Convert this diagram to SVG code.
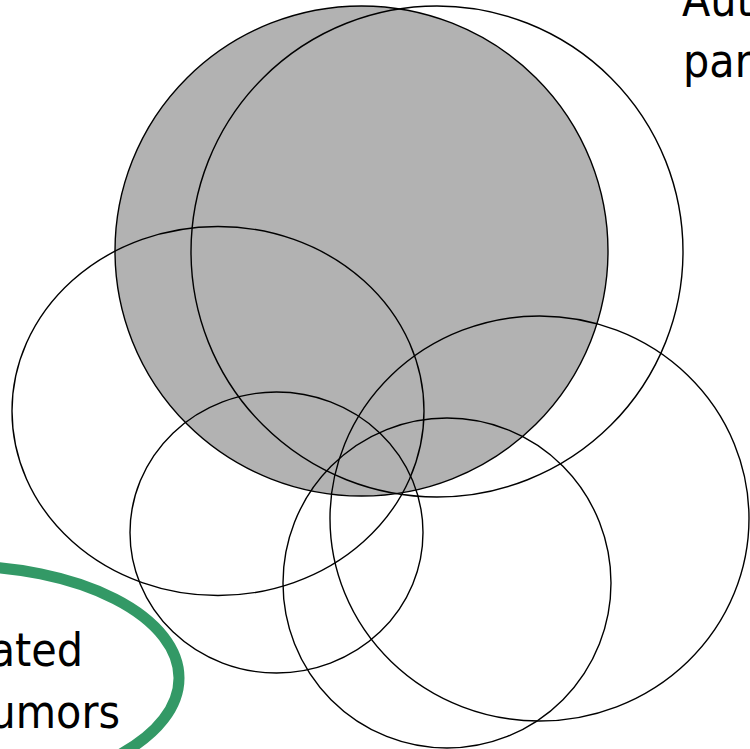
<svg xmlns="http://www.w3.org/2000/svg" width="750" height="749" viewBox="0 0 750 749">
<style>
.c{fill:none;stroke:#000;stroke-width:1.4}
.t{font-family:"DejaVu Sans Condensed","DejaVu Sans",sans-serif;font-size:46px;fill:#000}
</style>
<rect width="750" height="749" fill="#fff"/>
<g id="set-gray"><ellipse cx="361.5" cy="251" rx="246.5" ry="245" fill="#b2b2b2" stroke="#000" stroke-width="1.4"/></g>
<g id="set-right"><ellipse class="c" cx="437" cy="251.5" rx="246" ry="245.5"/></g>
<g id="set-left"><ellipse class="c" cx="218" cy="411" rx="206" ry="184.5"/></g>
<g id="set-small"><ellipse class="c" cx="276.5" cy="532.5" rx="146.5" ry="140.5"/></g>
<g id="set-bigright"><ellipse class="c" cx="539.5" cy="518.5" rx="209.5" ry="202.5"/></g>
<g id="set-bottom"><ellipse class="c" cx="447" cy="583" rx="164" ry="165"/></g>
<g id="label-top">
<text class="t" x="682" y="16">Aut</text>
<text class="t" x="683" y="77">par</text>
</g>
<g id="label-bottom">
<ellipse cx="-40" cy="678" rx="219" ry="112" fill="none" stroke="#339966" stroke-width="11"/>
<text class="t" x="83" y="666" text-anchor="end">ated</text>
<text class="t" x="120" y="728" text-anchor="end">umors</text>
</g>
</svg>
